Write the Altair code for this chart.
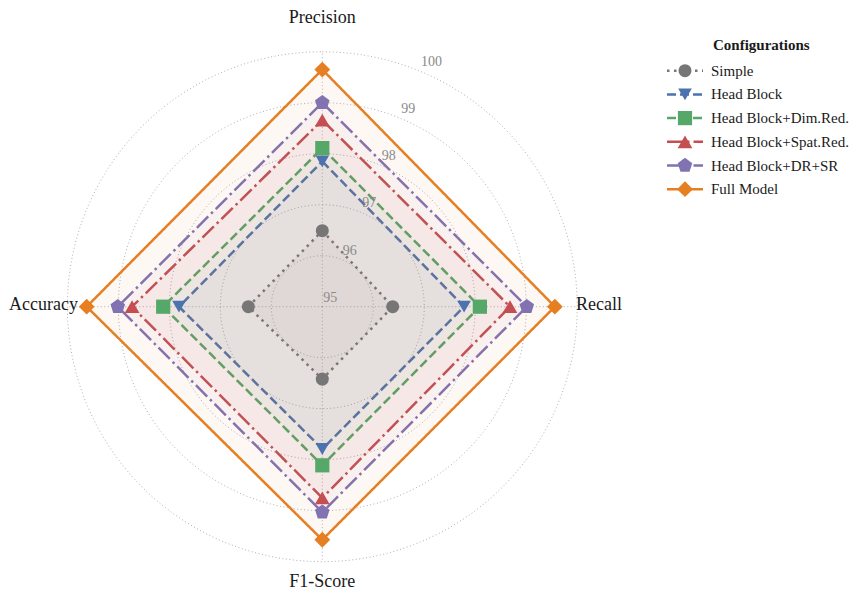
import math
import altair as alt
import pandas as pd

# ---------------- data ----------------
metrics = ["Precision", "Recall", "F1-Score", "Accuracy"]
configs = ["Simple", "Head Block", "Head Block+Dim.Red.", "Head Block+Spat.Red.",
           "Head Block+DR+SR", "Full Model"]
simple = [96.49, 96.38, 96.42, 96.45]
head_block = [97.85, 97.78, 97.79, 97.81]
head_block_dim_red = [98.11, 98.09, 98.11, 98.12]
head_block_spat_red = [98.66, 98.68, 98.75, 98.73]
head_block_dr_sr = [99.00, 99.01, 99.03, 99.01]
full_model = [99.65, 99.56, 99.57, 99.62]
r_ticks = [95, 96, 97, 98, 99, 100]

series = [simple, head_block, head_block_dim_red, head_block_spat_red,
          head_block_dr_sr, full_model]

# ---------------- styles ----------------
colors = ["#767676", "#4C72B0", "#55A868", "#C44E52", "#8172B2", "#E67E22"]
dashes = [[2.5, 4.5], [9, 4], [9, 4], [16, 4, 2.5, 4], [16, 4, 2.5, 4], [1, 0]]
pentagon = "M0,-1L0.951,-0.309L0.588,0.809L-0.588,0.809L-0.951,-0.309Z"
shapes = ["circle", "triangle-down", "square", "triangle-up", pentagon, "diamond"]
FONT = "Liberation Serif"

R0 = r_ticks[0]
N = len(metrics)
PX = 51.0              # pixels per unit of score
W, H = 844, 586
CX, CY = 314.3, 298.7  # centre inside plot area (px)
XDOM = [-CX / PX, (W - CX) / PX]
YDOM = [-(H - CY) / PX, CY / PX]

xs = alt.Scale(domain=XDOM, nice=False, zero=False)
ys = alt.Scale(domain=YDOM, nice=False, zero=False)
X = lambda f: alt.X(f, type="quantitative", scale=xs, axis=None)
Y = lambda f: alt.Y(f, type="quantitative", scale=ys, axis=None)

cscale = alt.Scale(domain=configs, range=colors)
dscale = alt.Scale(domain=configs, range=dashes)
sscale = alt.Scale(domain=configs, range=shapes)

rows = []
for ci, (cfg, vals) in enumerate(zip(configs, series)):
    for mi, (m, v) in enumerate(zip(metrics, vals)):
        rows.append({"config": cfg, "metric": m, "idx": mi, "value": v, "ci": ci})
df = pd.DataFrame(rows)

base = alt.Chart(df).transform_calculate(
    theta=f"datum.idx * 2 * PI / {N}"
).transform_calculate(
    px=f"(datum.value - {R0}) * sin(datum.theta)",
    py=f"(datum.value - {R0}) * cos(datum.theta)",
)

polys = base.mark_line(interpolate="linear-closed", strokeWidth=2.5, fillOpacity=0.05).encode(
    x=X("px"), y=Y("py"), order="idx:Q",
    color=alt.Color("config:N", scale=cscale, legend=None),
    fill=alt.Fill("config:N", scale=cscale, legend=None),
    strokeDash=alt.StrokeDash("config:N", scale=dscale, legend=None),
)

pt_size = alt.Scale(domain=configs, range=[170, 250, 170, 250, 200, 290])
markers = base.mark_point(filled=True, opacity=1).encode(
    x=X("px"), y=Y("py"),
    color=alt.Color("config:N", scale=cscale, legend=None),
    shape=alt.Shape("config:N", scale=sscale, legend=None),
    size=alt.Size("config:N", scale=pt_size, legend=None),
)

# grid circles
grid_rows = [{"tick": t, "deg": d} for t in r_ticks[1:] for d in range(0, 360, 3)]
grid = alt.Chart(pd.DataFrame(grid_rows)).transform_calculate(
    gx=f"(datum.tick - {R0}) * sin(datum.deg * PI / 180)",
    gy=f"(datum.tick - {R0}) * cos(datum.deg * PI / 180)",
).mark_line(interpolate="linear-closed", color="#b0b0b0", strokeWidth=1,
            strokeDash=[1, 2.5]).encode(
    x=X("gx"), y=Y("gy"), order="deg:Q", detail="tick:N")

mdf = pd.DataFrame({"metric": metrics, "idx": list(range(N))})
spokes = alt.Chart(mdf).transform_calculate(
    theta=f"datum.idx * 2 * PI / {N}"
).transform_calculate(
    x0="0", y0="0",
    x1=f"{r_ticks[-1] - R0} * sin(datum.theta)",
    y1=f"{r_ticks[-1] - R0} * cos(datum.theta)",
).mark_rule(color="#b0b0b0", strokeWidth=1, strokeDash=[1, 2.5]).encode(
    x=X("x0"), y=Y("y0"), x2="x1:Q", y2="y1:Q")

tdf = pd.DataFrame({"tick": r_ticks})
tick_labels = alt.Chart(tdf).transform_calculate(
    tx=f"(datum.tick - {R0}) * sin(PI / 8)",
    ty=f"(datum.tick - {R0}) * cos(PI / 8)",
).mark_text(align="left", baseline="alphabetic", dx=1, dy=-5, font=FONT,
            fontSize=14, color="#8a8a8a").encode(
    x=X("tx"), y=Y("ty"), text="tick:Q")

# axis (category) labels
lab = alt.Chart(mdf).transform_calculate(
    theta=f"datum.idx * 2 * PI / {N}",
    s="round(sin(datum.idx * 2 * PI / %d) * 1000) / 1000" % N,
)
lab_v = lab.transform_filter("abs(datum.s) < 0.5").transform_calculate(
    lx="0", ly=f"cos(datum.theta) > 0 ? {288.7 / PX} : {-275.5 / PX}"
).mark_text(align="center", baseline="middle", font=FONT, fontSize=18, color="#1a1a1a").encode(
    x=X("lx"), y=Y("ly"), text="metric:N")
lab_r = lab.transform_filter("datum.s >= 0.5").transform_calculate(
    lx=f"{253.7 / PX}", ly=f"{1.7 / PX}"
).mark_text(align="left", baseline="middle", font=FONT, fontSize=18, color="#1a1a1a").encode(
    x=X("lx"), y=Y("ly"), text="metric:N")
lab_l = lab.transform_filter("datum.s <= -0.5").transform_calculate(
    lx=f"{-244.3 / PX}", ly=f"{1.7 / PX}"
).mark_text(align="right", baseline="middle", font=FONT, fontSize=18, color="#1a1a1a").encode(
    x=X("lx"), y=Y("ly"), text="metric:N")

# legend (drawn with marks)
ldf = pd.DataFrame({"config": configs, "i": list(range(len(configs)))})
LEG_Y0, LEG_STEP = 62.7, 23.7
leg = alt.Chart(ldf).transform_calculate(
    ly=f"{YDOM[1]} - ({LEG_Y0} + datum.i * {LEG_STEP}) / {PX}"
)
leg_lines = leg.mark_rule(strokeWidth=2.5).encode(
    x=alt.value(659), x2=alt.value(695), y=Y("ly"),
    color=alt.Color("config:N", scale=cscale, legend=None),
    strokeDash=alt.StrokeDash("config:N", scale=dscale, legend=None),
)
leg_pts = leg.mark_point(filled=True, opacity=1).encode(
    x=alt.value(677), y=Y("ly"),
    color=alt.Color("config:N", scale=cscale, legend=None),
    shape=alt.Shape("config:N", scale=sscale, legend=None),
    size=alt.Size("config:N", scale=pt_size, legend=None),
)
leg_txt = leg.mark_text(align="left", baseline="middle", font=FONT, fontSize=15,
                        color="#1a1a1a").encode(
    x=alt.value(703), y=Y("ly"), text="config:N")
leg_title = alt.Chart(pd.DataFrame({"t": ["Configurations"]})).transform_calculate(
    ly=f"{YDOM[1]} - 37 / {PX}"
).mark_text(align="left", baseline="middle", font=FONT, fontSize=15,
            fontWeight="bold", color="#1a1a1a").encode(
    x=alt.value(705), y=Y("ly"), text="t:N")

chart = alt.layer(
    grid, spokes, polys, markers, tick_labels, lab_v, lab_r, lab_l,
    leg_lines, leg_pts, leg_txt, leg_title
).properties(
    width=W, height=H, padding=0,
    autosize=alt.AutoSizeParams(type="none"),
).configure(background="white").configure_view(stroke=None)

chart.save("out.html", embed_options={"renderer": "svg", "actions": False})
